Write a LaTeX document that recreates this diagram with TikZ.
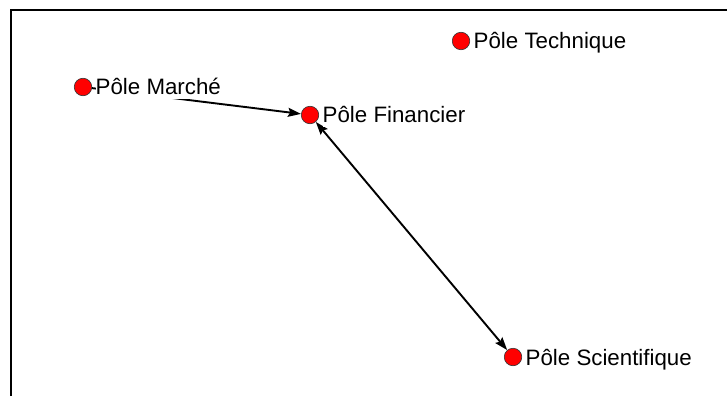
\documentclass[tikz,border=0pt]{standalone}
\usepackage{fontspec}
\setmainfont{Liberation Sans}
\usetikzlibrary{arrows.meta}
\tikzset{
  pole/.style={circle,draw=black!80,line width=0.6pt,fill=red,minimum size=17.5pt,inner sep=0pt},
  polelabel/.style={anchor=base west,fill=white,inner xsep=0pt,inner ysep=4.4pt,text=black,
    font=\fontsize{22.3}{26}\selectfont},
  link/.style={line width=1.9pt,black,>={Stealth[length=13pt,width=9pt,inset=2pt]}},
  frameline/.style={line width=2pt,black}
}
\begin{document}
\begin{tikzpicture}[x=1pt,y=-1pt]
\useasboundingbox (0,0) rectangle (727,396);
\fill[white] (0,0) rectangle (727,396);
\draw[frameline] (11,396) -- (11,10) -- (727,10);
% poles
\node[pole] (m) at (83,87) {};
\node[pole] (f) at (310,115) {};
\node[pole] (t) at (461,41) {};
\node[pole] (s) at (513,357) {};
% links
\draw[link,->] (m) -- (f);
\draw[link,<->] (f) -- (s);
% labels
\node[polelabel] (ml) at (95.5,94.5) {Pôle Marché};
\node[polelabel] (fl) at (322.5,122.5) {Pôle Financier};
\node[polelabel] (tl) at (473.5,48.5) {Pôle Technique};
\node[polelabel] (sl) at (525.5,365) {Pôle Scientifique};
\end{tikzpicture}
\end{document}
